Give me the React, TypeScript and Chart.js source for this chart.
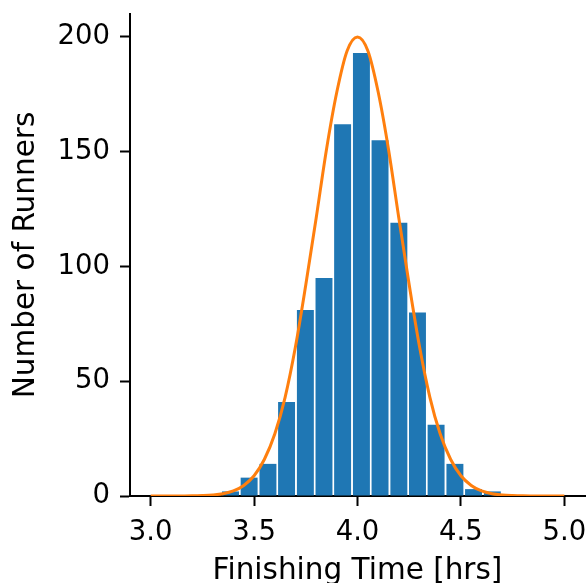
import React, { useEffect, useRef } from "react";
import { Chart, registerables } from "chart.js";

Chart.register(...registerables);

// Histogram bins (bin centres in hours) and runner counts
const binCenters = [3.386, 3.476, 3.567, 3.657, 3.748, 3.838, 3.928, 4.019, 4.109, 4.2, 4.29, 4.38, 4.471, 4.561, 4.652];
const runnerCounts = [2, 8, 14, 41, 81, 95, 162, 193, 155, 119, 80, 31, 14, 3, 2];

// Fitted curve
const curveX = [3.0, 3.05, 3.1, 3.15, 3.2, 3.25, 3.3, 3.35, 3.4, 3.45, 3.5, 3.55, 3.6, 3.65, 3.7, 3.75, 3.8, 3.85, 3.9, 3.95, 4.0,
  4.05, 4.1, 4.15, 4.2, 4.25, 4.3, 4.35, 4.4, 4.45, 4.5, 4.55, 4.6, 4.65, 4.7, 4.75, 4.8, 4.85, 4.9, 4.95, 5.0];
const curveY = [0, 0, 0, 0.03, 0.07, 0.2, 0.45, 1.0, 2.2, 4.6, 8.8, 16, 27, 43, 65, 92, 121, 151, 176, 194, 200,
  194, 176, 151, 121, 92, 65, 43, 27, 16, 8.8, 4.6, 2.2, 1.0, 0.45, 0.2, 0.07, 0.03, 0, 0, 0];

const xTicks = [3.0, 3.5, 4.0, 4.5, 5.0];
const yTicks = [0, 50, 100, 150, 200];

const FONT = "'DejaVu Sans', sans-serif";

export default function App() {
  const ref = useRef<HTMLCanvasElement | null>(null);

  useEffect(() => {
    const canvas = ref.current;
    if (!canvas) return;
    const chart = new Chart(canvas, {
      type: "bar",
      data: {
        datasets: [
          {
            type: "line",
            data: curveX.map((x, i) => ({ x, y: curveY[i] })),
            borderColor: "#ff7f0e",
            borderWidth: 3,
            pointRadius: 0,
            fill: false,
            cubicInterpolationMode: "monotone",
            order: 0,
          } as any,
          {
            type: "bar",
            data: binCenters.map((x, i) => ({ x, y: runnerCounts[i] })),
            backgroundColor: "#1f77b4",
            borderWidth: 0,
            barPercentage: 0.91,
            categoryPercentage: 1,
            order: 1,
          } as any,
        ],
      },
      options: {
        responsive: false,
        maintainAspectRatio: false,
        devicePixelRatio: 1,
        animation: false,
        layout: { padding: { top: 14, right: 15, bottom: 0, left: 0 } },
        plugins: { legend: { display: false }, tooltip: { enabled: false } },
        scales: {
          x: {
            type: "linear",
            min: 2.9,
            max: 5.1,
            offset: false,
            afterBuildTicks: (s: any) => {
              s.ticks = xTicks.map((v) => ({ value: v }));
            },
            afterFit: (s: any) => {
              s.height = 104;
              s.paddingLeft = 0;
              s.paddingRight = 0;
              s.paddingTop = 0;
              s.paddingBottom = 0;
            },
            grid: { offset: false, drawOnChartArea: false, tickLength: 10, tickWidth: 2, tickColor: "#000" },
            border: { display: true, color: "#000", width: 2 },
            ticks: {
              padding: 10,
              color: "#000",
              font: { family: FONT, size: 27.5 },
              maxRotation: 0,
              callback: (v: any) => Number(v).toFixed(1),
            },
            title: {
              display: true,
              text: "Finishing Time [hrs]",
              color: "#000",
              font: { family: FONT, size: 29.5 },
              padding: { top: 0, bottom: 11.3 },
            },
          },
          y: {
            type: "linear",
            min: 0,
            max: 210,
            afterBuildTicks: (s: any) => {
              s.ticks = yTicks.map((v) => ({ value: v }));
            },
            afterFit: (s: any) => {
              s.width = 130;
              s.paddingLeft = 0;
              s.paddingRight = 0;
              s.paddingTop = 0;
              s.paddingBottom = 0;
            },
            grid: { offset: false, drawOnChartArea: false, tickLength: 10, tickWidth: 2, tickColor: "#000" },
            border: { display: true, color: "#000", width: 2 },
            ticks: {
              padding: 10,
              color: "#000",
              font: { family: FONT, size: 27.5 },
            },
            title: {
              display: true,
              text: "Number of Runners",
              color: "#000",
              font: { family: FONT, size: 29.5 },
              padding: { top: 8.5, bottom: 0 },
            },
          },
        },
      },
    });
    return () => chart.destroy();
  }, []);

  return (
    <div
      style={{
        position: "fixed",
        left: 0,
        top: 0,
        width: 587,
        height: 583,
        overflow: "hidden",
        background: "#fff",
      }}
    >
      <canvas ref={ref} width={600} height={600} style={{ display: "block", width: 600, height: 600 }} />
    </div>
  );
}
